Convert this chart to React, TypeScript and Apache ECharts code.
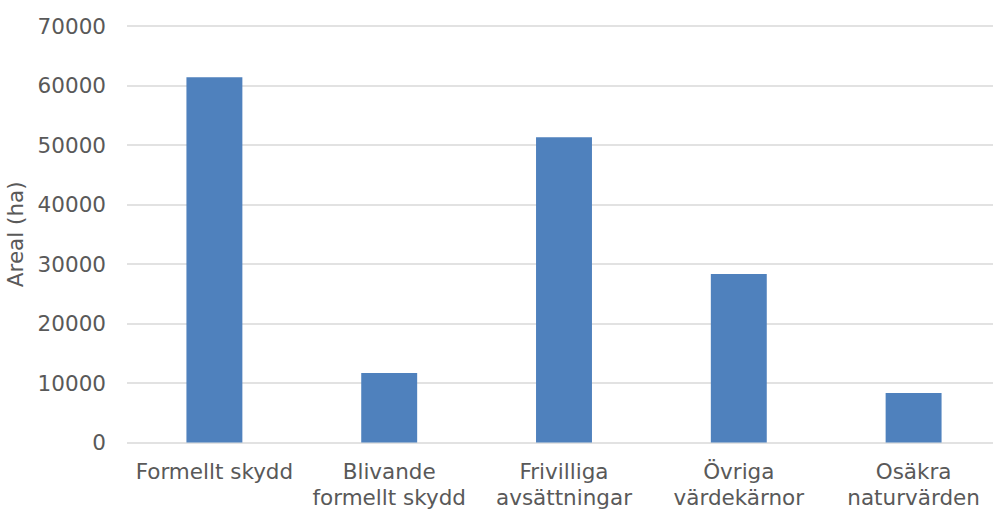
import React, { useEffect, useRef } from "react";
import * as echarts from "echarts";

const categories = [
  "Formellt skydd",
  "Blivande\nformellt skydd",
  "Frivilliga\navsättningar",
  "Övriga\nvärdekärnor",
  "Osäkra\nnaturvärden",
];
const areaValues = [61400, 11700, 51300, 28300, 8300];
const yTicks = { min: 0, max: 70000, interval: 10000 };

const FONT = "'DejaVu Sans', Verdana, sans-serif";
const TEXT = "#595959";
const FS = 21.5;

export default function App() {
  const ref = useRef<HTMLDivElement>(null);
  useEffect(() => {
    if (!ref.current) return;
    const chart = echarts.init(ref.current, undefined, { renderer: "svg" });
    chart.setOption({
      animation: false,
      backgroundColor: "#ffffff",
      grid: {
        left: 127,
        right: -8,
        top: 26,
        bottom: 68.5,
        containLabel: false,
        outerBoundsMode: "none",
      },
      xAxis: {
        type: "category",
        data: categories,
        axisLine: { show: false },
        axisTick: { show: false },
        axisLabel: {
          color: TEXT,
          fontFamily: FONT,
          fontSize: FS,
          lineHeight: 26,
          margin: 16,
          interval: 0,
        },
      },
      yAxis: {
        type: "value",
        min: yTicks.min,
        max: yTicks.max,
        interval: yTicks.interval,
        name: "Areal (ha)",
        nameLocation: "middle",
        nameGap: 99,
        nameTextStyle: { color: TEXT, fontFamily: FONT, fontSize: FS },
        axisLine: { show: false },
        axisTick: { show: false },
        axisLabel: {
          color: TEXT,
          fontFamily: FONT,
          fontSize: FS,
          margin: 21,
          formatter: (v: number) => String(v),
        },
        splitLine: { lineStyle: { color: "#d9d9d9", width: 1.5 } },
      },
      series: [
        {
          type: "bar",
          data: areaValues,
          barWidth: "32%",
          itemStyle: { color: "#4f81bd" },
        },
      ],
    });
    return () => chart.dispose();
  }, []);
  return (
    <div
      ref={ref}
      style={{ width: 993, height: 511, position: "absolute", left: 0, top: 0 }}
    />
  );
}
